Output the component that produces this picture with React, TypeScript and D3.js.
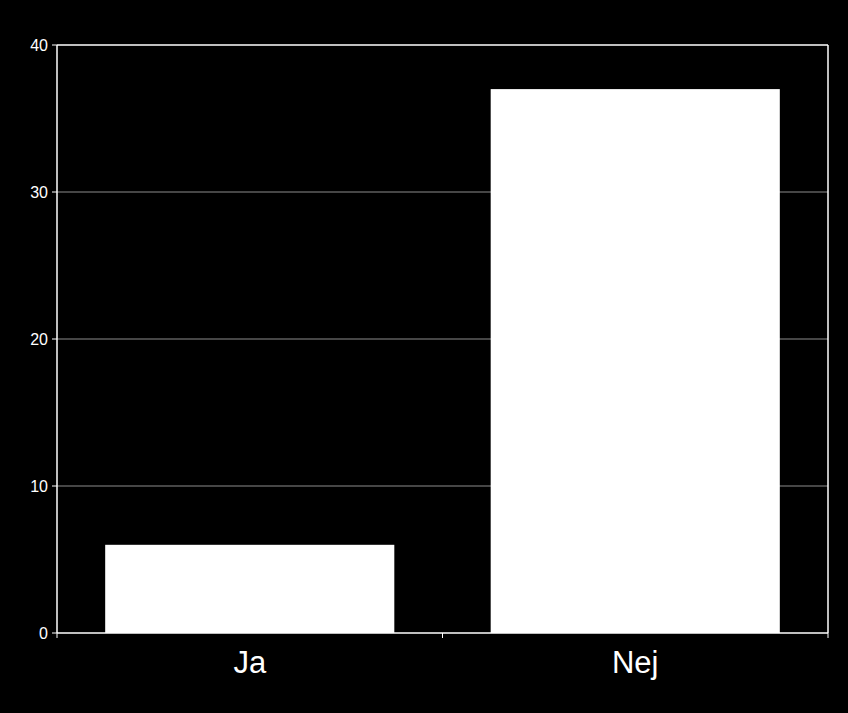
import React from "react";
import * as d3 from "d3";

const categories = ["Ja", "Nej"];
const values = [6, 37];
const yTicks = [0, 10, 20, 30, 40];

const W = 848;
const H = 713;
const M = { left: 57, right: 20, top: 45, bottom: 80 };

export default function App() {
  const x = d3
    .scaleBand<string>()
    .domain(categories)
    .range([M.left, W - M.right])
    .paddingInner(0.25)
    .paddingOuter(0.125);
  const y = d3.scaleLinear().domain([0, 40]).range([H - M.bottom, M.top]);

  const font = "Arial, 'Liberation Sans', sans-serif";
  const x0 = M.left;
  const x1 = W - M.right;
  const y0 = y(0);
  const yTop = y(40);

  return (
    <>
      <style>{"html,body{margin:0;padding:0;background:#000;overflow:hidden}"}</style>
      <svg width={W} height={H} style={{ display: "block", background: "#000" }}>
        <rect width={W} height={H} fill="#000" />
        {/* grid */}
        {yTicks
          .filter((t) => t > 0 && t < 40)
          .map((t) => (
            <line key={t} x1={x0} x2={x1} y1={y(t)} y2={y(t)} stroke="#8c8c8c" strokeWidth={1} />
          ))}
        {/* bars */}
        {categories.map((c, i) => (
          <rect
            key={c}
            x={x(c)}
            y={y(values[i])}
            width={x.bandwidth()}
            height={y0 - y(values[i])}
            fill="#fff"
          />
        ))}
        {/* frame */}
        <line x1={x0} x2={x1} y1={yTop} y2={yTop} stroke="#fff" strokeWidth={1.5} />
        <line x1={x1} x2={x1} y1={yTop} y2={y0} stroke="#fff" strokeWidth={1.5} />
        <line x1={x0} x2={x0} y1={yTop} y2={y0} stroke="#fff" strokeWidth={1.5} />
        <line x1={x0} x2={x1} y1={y0} y2={y0} stroke="#fff" strokeWidth={1.5} />
        {/* y ticks */}
        {yTicks.map((t) => (
          <g key={t}>
            <line x1={x0 - 5} x2={x0} y1={y(t)} y2={y(t)} stroke="#fff" strokeWidth={1} />
            <text
              x={x0 - 9}
              y={y(t)}
              dy="0.35em"
              textAnchor="end"
              fill="#fff"
              fontSize={16}
              fontFamily={font}
            >
              {t}
            </text>
          </g>
        ))}
        {/* x ticks */}
        {[x0, (x0 + x1) / 2, x1].map((p, i) => (
          <line key={i} x1={p} x2={p} y1={y0} y2={y0 + 5} stroke="#fff" strokeWidth={1} />
        ))}
        {categories.map((c) => (
          <text
            key={c}
            x={(x(c) ?? 0) + x.bandwidth() / 2}
            y={y0 + 40}
            textAnchor="middle"
            fill="#fff"
            fontSize={31}
            fontFamily={font}
          >
            {c}
          </text>
        ))}
      </svg>
    </>
  );
}
